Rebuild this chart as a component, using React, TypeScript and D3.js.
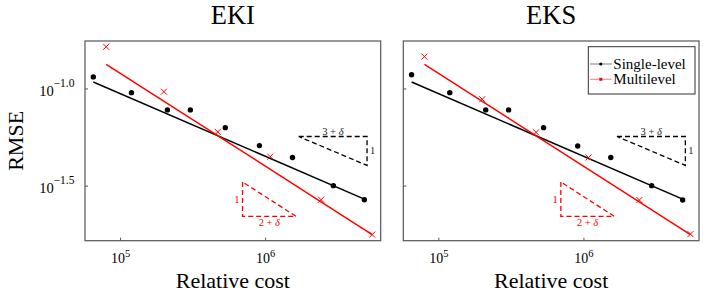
import React from 'react';
import * as d3 from 'd3';

// values (cost vs RMSE, log-log)
const singleCost = [64900, 118900, 210400, 302700, 527000, 905700, 1531000, 2930000, 4790000];
const ekiSingleRmse = [0.1153, 0.0957, 0.078, 0.078, 0.0632, 0.0511, 0.0444, 0.0318, 0.0269];
const eksSingleRmse = [0.1183, 0.0957, 0.078, 0.078, 0.0632, 0.0509, 0.0444, 0.0318, 0.0268];

const multiCost = [79600, 199000, 468000, 1076000, 2410000, 5420000];
const ekiMultiRmse = [0.1648, 0.0968, 0.0601, 0.0448, 0.0269, 0.0178];
const eksMultiRmse = [0.1466, 0.0885, 0.0598, 0.0444, 0.0268, 0.0179];

// fitted rate lines
const singleFitCost = [64900, 4790000];
const singleFitRmse = [0.1086, 0.0271];
const multiFitCost = [79600, 5420000];
const multiFitRmse = [0.1339, 0.0178];

// slope triangles
const slopeSingleCost = [1690000, 5000000];
const slopeSingleRmse = [0.0569, 0.0404];
const slopeMultiCost = [693000, 1620000];
const slopeMultiRmse = [0.0332, 0.0221];

const xTickExp = [5, 6];
const yTickExp = ['-1.0', '-1.5'];
const titles = ['EKI', 'EKS'];
const legendLabels = ['Single-level', 'Multilevel'];

const FONT = '"Liberation Serif", "Times New Roman", serif';
const RED = '#ff0000';

const top = 41, bottom = 240.7, panelW = 295.7;

function Panel(props: any) {
    const { left, title, sRmse, mRmse, yLabels, legend } = props;

    const x = d3.scaleLog().domain([Math.pow(10, 4.755), Math.pow(10, 6.793)]).range([left, left + panelW]);
    const y = d3.scaleLog().domain([Math.pow(10, -1.781), Math.pow(10, -0.7533)]).range([bottom, top]);

    const line = d3.line<[number, number]>().x(d => x(d[0])).y(d => y(d[1]));
    const sFit = line(singleFitCost.map((c, i) => [c, singleFitRmse[i]] as [number, number]));
    const mFit = line(multiFitCost.map((c, i) => [c, multiFitRmse[i]] as [number, number]));

    // black triangle: horizontal top, vertical right edge
    const bx0 = x(slopeSingleCost[0]), bx1 = x(slopeSingleCost[1]);
    const by0 = y(slopeSingleRmse[0]), by1 = y(slopeSingleRmse[1]);
    const blackTri = `M${bx0},${by0}L${bx1},${by0}L${bx1},${by1}Z`;
    // red triangle: vertical left edge, horizontal bottom
    const rx0 = x(slopeMultiCost[0]), rx1 = x(slopeMultiCost[1]);
    const ry0 = y(slopeMultiRmse[0]), ry1 = y(slopeMultiRmse[1]);
    const redTri = `M${rx0},${ry0}L${rx0},${ry1}L${rx1},${ry1}Z`;

    const cx = left + panelW / 2;

    return (
        <g>
            <text x={cx} y={24} textAnchor="middle" fontFamily={FONT} fontSize={26.5}>{title}</text>

            <path d={sFit || ''} fill="none" stroke="#000" strokeWidth={1.5} />
            <path d={mFit || ''} fill="none" stroke={RED} strokeWidth={1.5} />

            {singleCost.map((c, i) => (
                <circle key={'s' + i} cx={x(c)} cy={y(sRmse[i])} r={2.7} fill="#000" />
            ))}
            {multiCost.map((c, i) => (
                <path key={'m' + i} transform={`translate(${x(c)},${y(mRmse[i])})`}
                    d="M-3,-3L3,3M-3,3L3,-3" stroke={RED} strokeWidth={1} fill="none" />
            ))}

            <path d={blackTri} fill="none" stroke="#000" strokeWidth={1.3} strokeDasharray="5,3" />
            <text x={(bx0 + bx1) / 2} y={by0 - 2} textAnchor="middle" fontFamily={FONT} fontSize={10.5} fill="#222">
                3 + <tspan fontStyle="italic">δ</tspan>
            </text>
            <text x={bx1 + 3} y={(by0 + by1) / 2 + 3.5} fontFamily={FONT} fontSize={10.5} fill="#222">1</text>

            <path d={redTri} fill="none" stroke={RED} strokeWidth={1.3} strokeDasharray="5,3" />
            <text x={rx0 - 3} y={(ry0 + ry1) / 2 + 3.5} textAnchor="end" fontFamily={FONT} fontSize={10.5} fill={RED}>1</text>
            <text x={(rx0 + rx1) / 2} y={ry1 + 10} textAnchor="middle" fontFamily={FONT} fontSize={10.5} fill={RED}>
                2 + <tspan fontStyle="italic">δ</tspan>
            </text>

            <rect x={left} y={top} width={panelW} height={bottom - top} fill="none" stroke="#555" strokeWidth={1.2} />

            {xTickExp.map(e => {
                const tx = x(Math.pow(10, e));
                return (
                    <g key={'x' + e}>
                        <line x1={tx} x2={tx} y1={bottom} y2={bottom - 3} stroke="#555" />
                        <text x={tx} y={263.3} textAnchor="middle" fontFamily={FONT} fontSize={14}>
                            10<tspan dy={-6.5} fontSize={10.5}>{e}</tspan>
                        </text>
                    </g>
                );
            })}
            {yTickExp.map(e => {
                const ty = y(Math.pow(10, +e));
                return (
                    <g key={'y' + e}>
                        <line x1={left} x2={left + 3} y1={ty} y2={ty} stroke="#555" />
                        {yLabels && (
                            <text x={left - 10.5} y={ty + 7} textAnchor="end" fontFamily={FONT} fontSize={14.5}>
                                10<tspan dy={-9} fontSize={11.5}>{e.replace('-', '−')}</tspan>
                            </text>
                        )}
                    </g>
                );
            })}

            <text x={cx} y={288} textAnchor="middle" fontFamily={FONT} fontSize={22}>Relative cost</text>
            {yLabels && (
                <text transform={`translate(${23.3},${(top + bottom) / 2}) rotate(-90)`} textAnchor="middle"
                    fontFamily={FONT} fontSize={22}>RMSE</text>
            )}

            {legend && (
                <g>
                    <rect x={588.3} y={46.7} width={106.7} height={47.3} fill="#fff" stroke="#333" strokeWidth={1} />
                    <line x1={590} x2={611.7} y1={64} y2={64} stroke="#000" strokeOpacity={0.5} strokeWidth={1} />
                    <circle cx={600.8} cy={64} r={1.6} fill="#000" />
                    <text x={613.3} y={68.5} fontFamily={FONT} fontSize={15}>{legendLabels[0]}</text>
                    <line x1={590} x2={611.7} y1={79.3} y2={79.3} stroke={RED} strokeOpacity={0.5} strokeWidth={1} />
                    <rect x={599.3} y={77.8} width={3} height={3} fill={RED} />
                    <text x={613.3} y={83.8} fontFamily={FONT} fontSize={15}>{legendLabels[1]}</text>
                </g>
            )}
        </g>
    );
}

export default function App() {
    return (
        <div style={{ position: 'absolute', left: 0, top: 0 }}>
            <svg width={706} height={294} style={{ display: 'block', background: '#fff' }}>
                <Panel left={85} title={titles[0]} sRmse={ekiSingleRmse} mRmse={ekiMultiRmse} yLabels={true} legend={false} />
                <Panel left={403.3} title={titles[1]} sRmse={eksSingleRmse} mRmse={eksMultiRmse} yLabels={false} legend={true} />
            </svg>
        </div>
    );
}
